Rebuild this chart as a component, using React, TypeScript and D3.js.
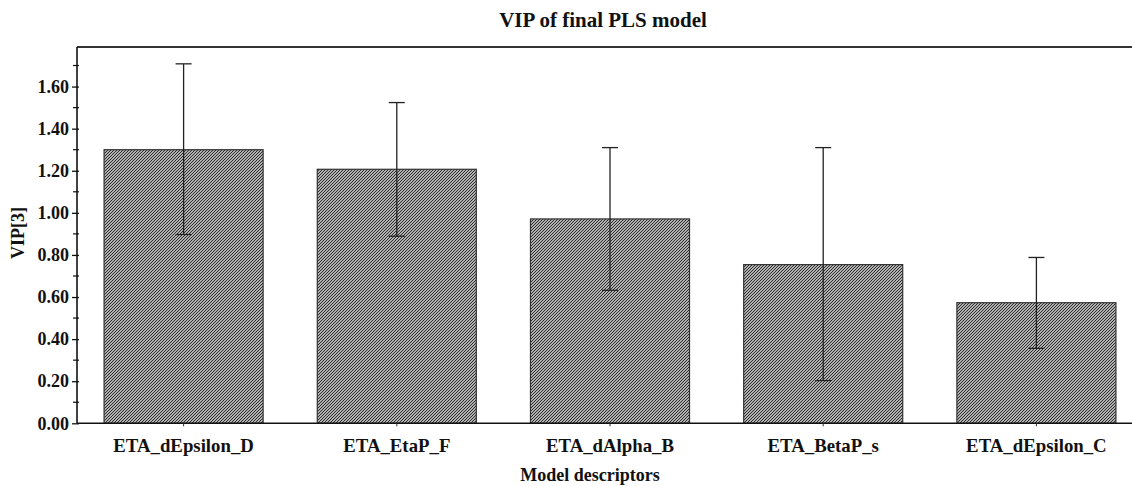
import React, { useEffect, useRef } from 'react';
import * as d3 from 'd3';

// VIP values of the final PLS model, with error bar limits
const descriptors = ['ETA_dEpsilon_D', 'ETA_EtaP_F', 'ETA_dAlpha_B', 'ETA_BetaP_s', 'ETA_dEpsilon_C'];
const vip = [1.3, 1.207, 0.971, 0.754, 0.573];
const errLow = [0.897, 0.889, 0.632, 0.203, 0.356];
const errHigh = [1.708, 1.524, 1.31, 1.31, 0.788];
const yTicks = [0, 0.2, 0.4, 0.6, 0.8, 1.0, 1.2, 1.4, 1.6];
const yMinorTicks = [0.1, 0.3, 0.5, 0.7, 0.9, 1.1, 1.3, 1.5, 1.7];

const App: React.FC = () => {
  const svgRef = useRef<SVGSVGElement>(null);

  useEffect(() => {
    if (!svgRef.current) return;

    const width = 1132;
    const height = 486;
    const margin = { top: 47, right: -11, bottom: 63, left: 77 };
    const font = "'Liberation Serif', 'Times New Roman', serif";

    const svg = d3.select(svgRef.current).attr('width', width).attr('height', height);
    svg.selectAll('*').remove();

    // dense "/" hatching, 3px tile so it lines up with the pixel grid
    const defs = svg.append('defs');
    const ps = 3;
    const pat = defs
      .append('pattern')
      .attr('id', 'hatch')
      .attr('patternUnits', 'userSpaceOnUse')
      .attr('width', ps)
      .attr('height', ps);
    pat.append('rect').attr('width', ps).attr('height', ps).attr('fill', '#f0f0f0');
    pat
      .append('path')
      .attr('d', `M-1,1L1,-1M0,${ps}L${ps},0M${ps - 1},${ps + 1}L${ps + 1},${ps - 1}`)
      .attr('stroke', '#222')
      .attr('stroke-width', 1.15);

    const x = d3
      .scaleBand()
      .domain(descriptors)
      .range([margin.left, width - margin.right])
      .paddingInner(0.254)
      .paddingOuter(0.127);

    const y = d3
      .scaleLinear()
      .domain([0, 1.788])
      .range([height - margin.bottom + 0.3, margin.top]);

    const y0 = y(0);

    // bars
    svg
      .selectAll('.bar')
      .data(descriptors)
      .enter()
      .append('rect')
      .attr('class', 'bar')
      .attr('x', (d) => x(d) ?? 0)
      .attr('y', (d, i) => y(vip[i]))
      .attr('width', x.bandwidth())
      .attr('height', (d, i) => y0 - y(vip[i]))
      .attr('fill', 'url(#hatch)')
      .attr('stroke', '#333')
      .attr('stroke-width', 1.2);

    // error bars
    const eb = svg
      .selectAll('.err')
      .data(descriptors)
      .enter()
      .append('g')
      .attr('class', 'err')
      .attr('stroke', '#222')
      .attr('stroke-width', 1.3);
    const cx = (d: string) => (x(d) ?? 0) + x.bandwidth() / 2;
    eb.append('line')
      .attr('x1', cx)
      .attr('x2', cx)
      .attr('y1', (d, i) => y(errLow[i]))
      .attr('y2', (d, i) => y(errHigh[i]));
    eb.append('line')
      .attr('x1', (d) => cx(d) - 8)
      .attr('x2', (d) => cx(d) + 8)
      .attr('y1', (d, i) => y(errLow[i]))
      .attr('y2', (d, i) => y(errLow[i]));
    eb.append('line')
      .attr('x1', (d) => cx(d) - 8)
      .attr('x2', (d) => cx(d) + 8)
      .attr('y1', (d, i) => y(errHigh[i]))
      .attr('y2', (d, i) => y(errHigh[i]));

    // frame: top and bottom lines
    svg
      .append('line')
      .attr('x1', margin.left)
      .attr('x2', width)
      .attr('y1', margin.top)
      .attr('y2', margin.top)
      .attr('stroke', '#333')
      .attr('stroke-width', 2);
    svg
      .append('line')
      .attr('x1', margin.left)
      .attr('x2', width)
      .attr('y1', y0)
      .attr('y2', y0)
      .attr('stroke', '#111')
      .attr('stroke-width', 1.6);

    // y axis
    const yAxis = svg
      .append('g')
      .attr('transform', `translate(${margin.left},0)`)
      .call(
        d3
          .axisLeft(y)
          .tickValues(yTicks)
          .tickFormat(d3.format('.2f'))
          .tickSize(5)
          .tickPadding(3),
      );
    yAxis.select('.domain').attr('stroke', '#111').attr('stroke-width', 1.6).attr('d', `M0,${margin.top}V${y0}`);
    yAxis.selectAll('.tick line').attr('stroke', '#111').attr('stroke-width', 1.3).attr('x2', -5).attr('x1', 2);
    yAxis
      .selectAll('.tick text')
      .style('font-family', font)
      .style('font-weight', 'bold')
      .style('font-size', '18px')
      .attr('fill', '#111');

    svg
      .selectAll('.minor')
      .data(yMinorTicks)
      .enter()
      .append('line')
      .attr('class', 'minor')
      .attr('x1', margin.left - 4)
      .attr('x2', margin.left + 2)
      .attr('y1', (d) => y(d))
      .attr('y2', (d) => y(d))
      .attr('stroke', '#111')
      .attr('stroke-width', 1.2);

    // x axis category labels
    svg
      .selectAll('.xlab')
      .data(descriptors)
      .enter()
      .append('text')
      .attr('class', 'xlab')
      .attr('x', cx)
      .attr('y', 452)
      .attr('text-anchor', 'middle')
      .style('font-family', font)
      .style('font-weight', 'bold')
      .style('font-size', '18.8px')
      .attr('fill', '#111')
      .text((d) => d);

    svg
      .selectAll('.xtick')
      .data(descriptors)
      .enter()
      .append('line')
      .attr('x1', cx)
      .attr('x2', cx)
      .attr('y1', y0)
      .attr('y2', y0 + 3)
      .attr('stroke', '#333')
      .attr('stroke-width', 1);

    // titles
    svg
      .append('text')
      .attr('x', 603)
      .attr('y', 27)
      .attr('text-anchor', 'middle')
      .style('font-family', font)
      .style('font-weight', 'bold')
      .style('font-size', '21px')
      .attr('fill', '#111')
      .text('VIP of final PLS model');

    svg
      .append('text')
      .attr('x', 590)
      .attr('y', 481)
      .attr('text-anchor', 'middle')
      .style('font-family', font)
      .style('font-weight', 'bold')
      .style('font-size', '18px')
      .attr('fill', '#111')
      .text('Model descriptors');

    svg
      .append('text')
      .attr('transform', `translate(24,233) rotate(-90)`)
      .attr('text-anchor', 'middle')
      .style('font-family', font)
      .style('font-weight', 'bold')
      .style('font-size', '18px')
      .attr('fill', '#111')
      .text('VIP[3]');
  }, []);

  return <svg ref={svgRef} style={{ position: 'absolute', left: 0, top: 0, background: '#fff' }}></svg>;
};

export default App;
